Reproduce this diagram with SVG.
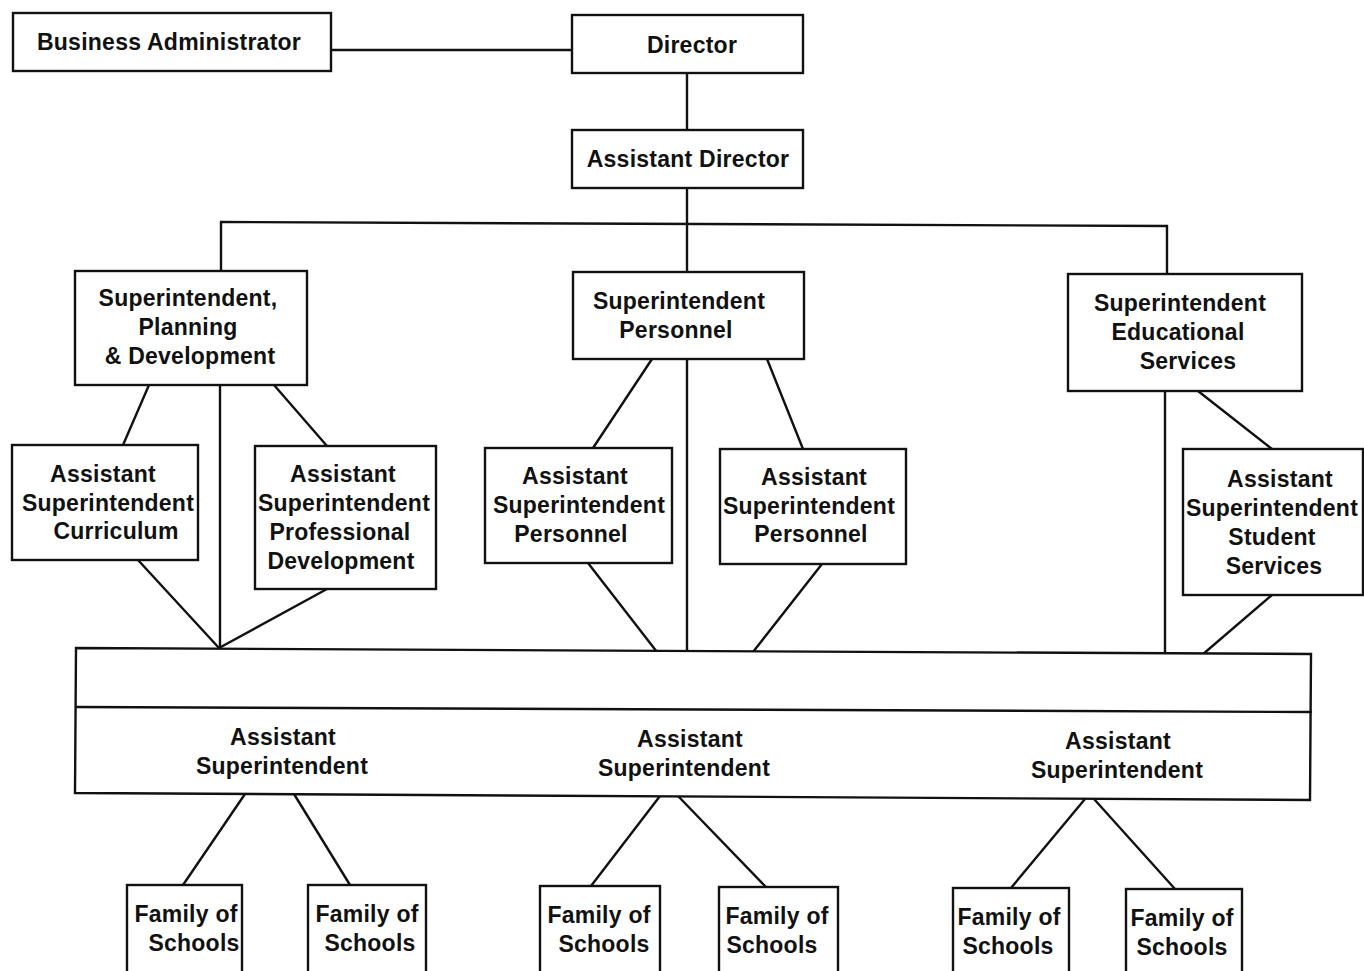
<svg xmlns="http://www.w3.org/2000/svg" width="1364" height="971" viewBox="0 0 1364 971">
  <style>
    .box { fill: #fff; stroke: #111; stroke-width: 2.4; }
    .ln { fill: none; stroke: #111; stroke-width: 2.4; stroke-linecap: round; }
    .t { font-family: "Liberation Sans", Arial, sans-serif; font-weight: bold; font-size: 23px; letter-spacing: 0.25px; text-anchor: middle; fill: #111; }
  </style>
  <rect width="1364" height="971" fill="#fff"/>

  <!-- reporting lines -->
  <g id="connectors" class="ln">
    <path d="M331,50 H572"/>
    <path d="M687,73 V130"/>
    <path d="M687,188 V272"/>
    <path d="M221,222 L1167,226"/>
    <path d="M221,222 V271"/>
    <path d="M1167,226 V273"/>
    <!-- planning & development branch -->
    <path d="M149,385 L123,445"/>
    <path d="M274,385 L327,446"/>
    <path d="M220,385 V648"/>
    <path d="M138,560 L219,648"/>
    <path d="M327,589 L219,648"/>
    <!-- personnel branch -->
    <path d="M652,359 L593,448"/>
    <path d="M767,359 L803,449"/>
    <path d="M687,359 V652"/>
    <path d="M588,563 L657,652"/>
    <path d="M822,564 L753,652"/>
    <!-- educational services branch -->
    <path d="M1198,391 L1272,449"/>
    <path d="M1165,391 V654"/>
    <path d="M1272,595 L1202,655"/>
    <!-- area offices to school families -->
    <path d="M245,794 L183,885"/>
    <path d="M294,794 L350,885"/>
    <path d="M660,796 L591,886"/>
    <path d="M678,796 L766,887"/>
    <path d="M1085,799 L1011,888"/>
    <path d="M1094,799 L1175,889"/>
  </g>

  <g id="business-administrator">
    <rect class="box" x="13" y="13" width="318" height="58"/>
    <text class="t" x="169" y="50">Business Administrator</text>
  </g>

  <g id="director">
    <rect class="box" x="572" y="15" width="231" height="58"/>
    <text class="t" x="692" y="53">Director</text>
  </g>

  <g id="assistant-director">
    <rect class="box" x="572" y="130" width="231" height="58"/>
    <text class="t" x="688" y="167">Assistant Director</text>
  </g>

  <g id="supt-planning">
    <rect class="box" x="75" y="271" width="232" height="114"/>
    <text class="t" x="188" y="306">Superintendent,</text>
    <text class="t" x="188" y="335">Planning</text>
    <text class="t" x="190" y="364">&amp; Development</text>
  </g>

  <g id="supt-personnel">
    <rect class="box" x="573" y="272" width="231" height="87"/>
    <text class="t" x="679" y="309">Superintendent</text>
    <text class="t" x="676" y="338">Personnel</text>
  </g>

  <g id="supt-educational">
    <rect class="box" x="1068" y="274" width="234" height="117"/>
    <text class="t" x="1180" y="311">Superintendent</text>
    <text class="t" x="1178" y="340">Educational</text>
    <text class="t" x="1188" y="369">Services</text>
  </g>

  <g id="asst-curriculum">
    <rect class="box" x="12" y="445" width="186" height="115"/>
    <text class="t" x="103" y="482">Assistant</text>
    <text class="t" x="108" y="511">Superintendent</text>
    <text class="t" x="116" y="539">Curriculum</text>
  </g>

  <g id="asst-professional">
    <rect class="box" x="255" y="446" width="181" height="143"/>
    <text class="t" x="343" y="482">Assistant</text>
    <text class="t" x="344" y="511">Superintendent</text>
    <text class="t" x="340" y="540">Professional</text>
    <text class="t" x="341" y="569">Development</text>
  </g>

  <g id="asst-personnel-1">
    <rect class="box" x="485" y="448" width="187" height="115"/>
    <text class="t" x="575" y="484">Assistant</text>
    <text class="t" x="579" y="513">Superintendent</text>
    <text class="t" x="571" y="542">Personnel</text>
  </g>

  <g id="asst-personnel-2">
    <rect class="box" x="720" y="449" width="186" height="115"/>
    <text class="t" x="814" y="485">Assistant</text>
    <text class="t" x="809" y="514">Superintendent</text>
    <text class="t" x="811" y="542">Personnel</text>
  </g>

  <g id="asst-student-services">
    <rect class="box" x="1183" y="449" width="180" height="146"/>
    <text class="t" x="1280" y="487">Assistant</text>
    <text class="t" x="1272" y="516">Superintendent</text>
    <text class="t" x="1272" y="545">Student</text>
    <text class="t" x="1274" y="574">Services</text>
  </g>

  <g id="area-superintendents">
    <path class="box" d="M76,648 L1311,654 L1310,800 L75,793 Z"/>
    <path class="ln" d="M76,707 L1311,712"/>
    <text class="t" x="283" y="745">Assistant</text>
    <text class="t" x="282" y="774">Superintendent</text>
    <text class="t" x="690" y="747">Assistant</text>
    <text class="t" x="684" y="776">Superintendent</text>
    <text class="t" x="1118" y="749">Assistant</text>
    <text class="t" x="1117" y="778">Superintendent</text>
  </g>

  <g id="family-1">
    <rect class="box" x="127" y="885" width="115" height="95"/>
    <text class="t" x="186" y="922">Family of</text>
    <text class="t" x="194" y="951">Schools</text>
  </g>
  <g id="family-2">
    <rect class="box" x="308" y="885" width="118" height="95"/>
    <text class="t" x="367" y="922">Family of</text>
    <text class="t" x="370" y="951">Schools</text>
  </g>
  <g id="family-3">
    <rect class="box" x="540" y="886" width="120" height="95"/>
    <text class="t" x="599" y="923">Family of</text>
    <text class="t" x="604" y="952">Schools</text>
  </g>
  <g id="family-4">
    <rect class="box" x="719" y="887" width="119" height="95"/>
    <text class="t" x="777" y="924">Family of</text>
    <text class="t" x="772" y="953">Schools</text>
  </g>
  <g id="family-5">
    <rect class="box" x="953" y="888" width="116" height="95"/>
    <text class="t" x="1009" y="925">Family of</text>
    <text class="t" x="1008" y="954">Schools</text>
  </g>
  <g id="family-6">
    <rect class="box" x="1126" y="889" width="116" height="95"/>
    <text class="t" x="1182" y="926">Family of</text>
    <text class="t" x="1182" y="955">Schools</text>
  </g>
</svg>
